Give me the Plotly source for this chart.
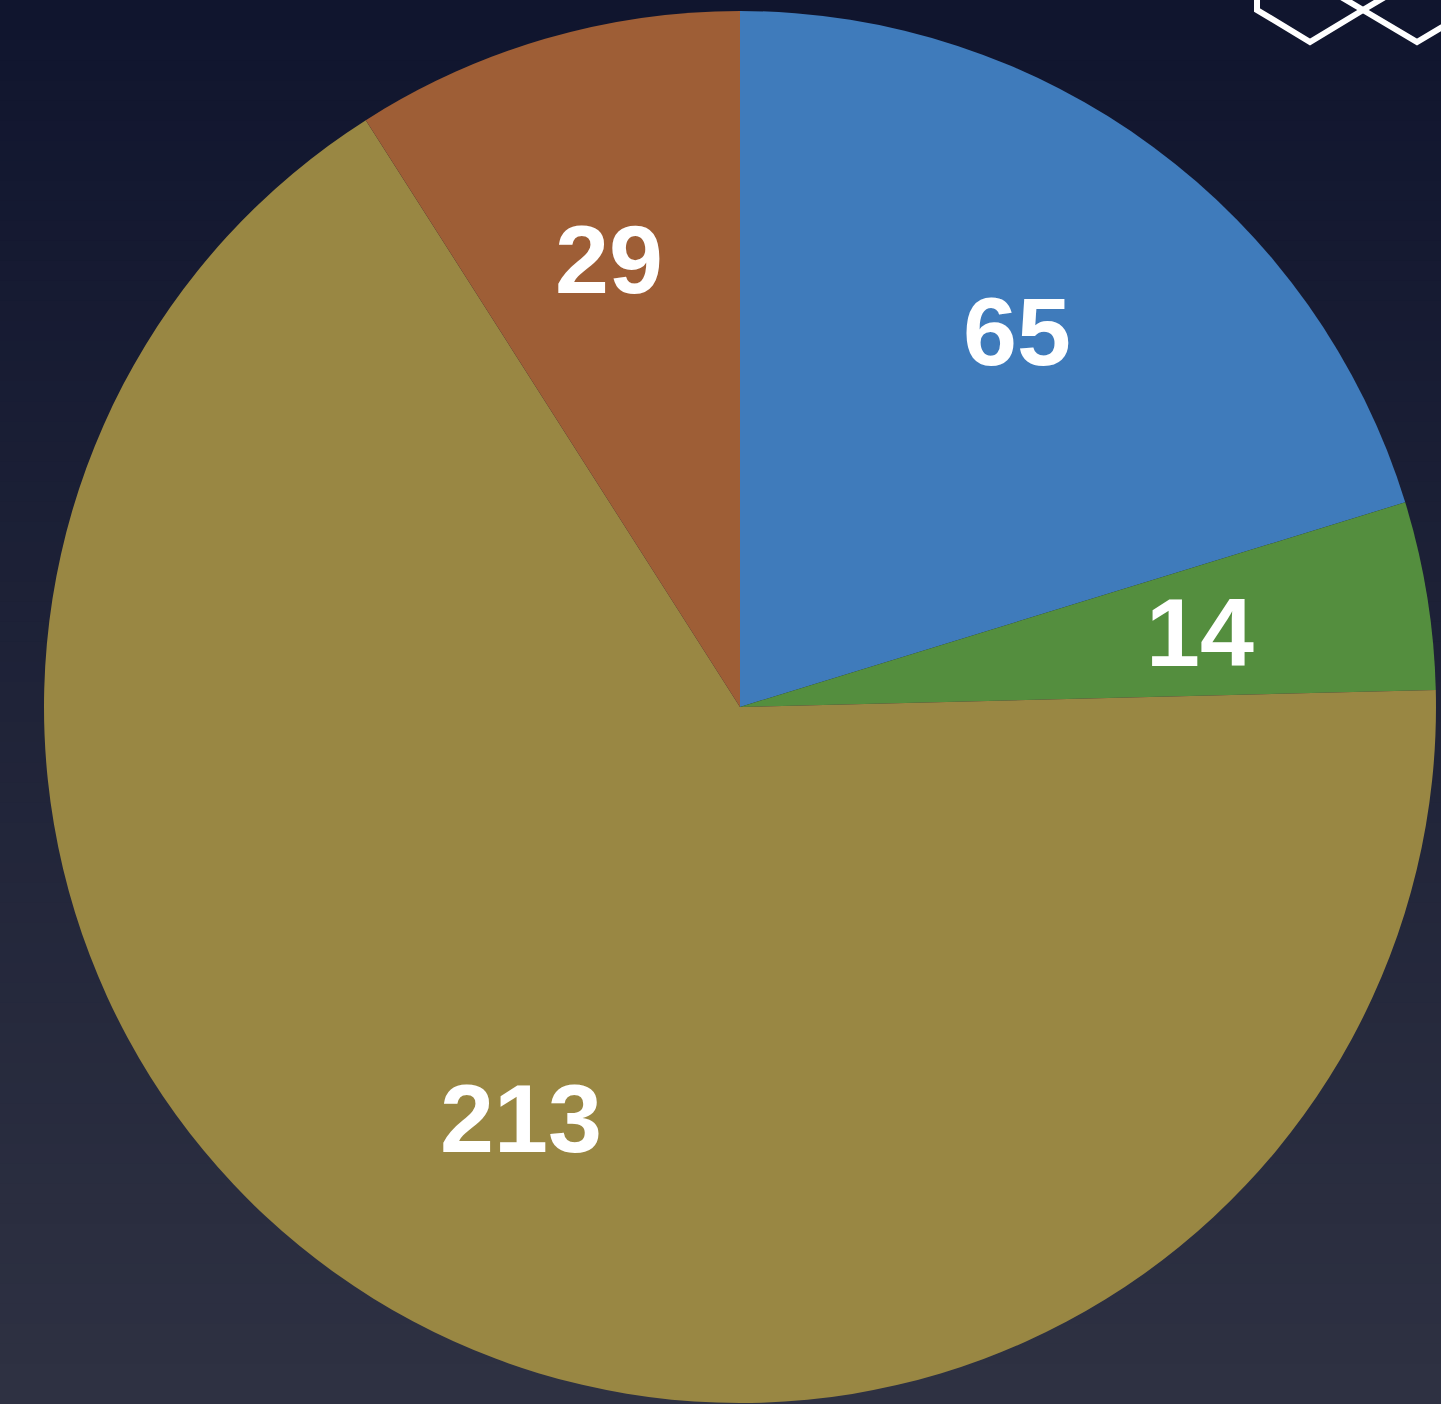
import math
import plotly.graph_objects as go

categories = ["A", "B", "C", "D"]
values = [65, 14, 213, 29]
colors = ["#3f7bbb", "#548e3e", "#998743", "#9e5e36"]

W, H = 1441, 1404
# pie domain (paper fractions)
dx0, dx1 = 44 / W, 1436 / W
dy0, dy1 = 1 / H, 1393 / H

fig = go.Figure()
fig.add_trace(go.Pie(
    labels=categories,
    values=values,
    sort=False,
    direction="clockwise",
    rotation=0,
    marker=dict(colors=colors, line=dict(width=0)),
    textinfo="none",
    showlegend=False,
    hoverinfo="label+value",
    domain=dict(x=[dx0, dx1], y=[dy0, dy1]),
))

# value labels placed at ~2/3 radius along each slice's mid angle
cxp = (dx0 + dx1) / 2 * W
cyp = (dy0 + dy1) / 2 * H
R = min((dx1 - dx0) * W, (dy1 - dy0) * H) / 2
total = sum(values)
cum = 0
annotations = []
for v in values:
    mid = (cum + v / 2) / total * 2 * math.pi
    cum += v
    px = cxp + 0.67 * R * math.sin(mid)
    py = cyp + 0.67 * R * math.cos(mid)
    annotations.append(dict(x=px / W, y=py / H, xref="paper", yref="paper",
                            text=str(v), showarrow=False, xanchor="center", yanchor="middle",
                            font=dict(family="Liberation Sans, Arial, sans-serif", size=97,
                                      color="white", weight="bold")))

# background gradient strips
top = (16, 21, 46)
bot = (46, 49, 66)
n = 70
shapes = []
for i in range(n):
    t = i / (n - 1)
    c = tuple(round(top[k] + (bot[k] - top[k]) * t) for k in range(3))
    shapes.append(dict(type="rect", xref="paper", yref="paper", layer="below",
                       x0=0, x1=1, y0=1 - (i + 1) / n - 0.002, y1=1 - i / n,
                       fillcolor="rgb(%d,%d,%d)" % c, line=dict(width=0)))

# decorative hexagon outlines (cut off at top right)
def pp(pts):
    return "M " + " L ".join("%f,%f" % (x / W, 1 - y / H) for x, y in pts)

deco = [
    [(1257, -30), (1257, 10), (1310, 42), (1363, 10), (1395, -9)],
    [(1331, -9), (1363, 10), (1417, 42), (1471, 10)],
]
for p in deco:
    shapes.append(dict(type="path", xref="paper", yref="paper", layer="above",
                       path=pp(p), line=dict(color="white", width=6)))

fig.update_layout(
    width=W, height=H,
    margin=dict(l=0, r=0, t=0, b=0),
    paper_bgcolor="rgb(16,21,46)",
    plot_bgcolor="rgba(0,0,0,0)",
    shapes=shapes,
    annotations=annotations,
)
fig.write_html("out.html", config={"displayModeBar": False},
               post_script="document.body.style.margin='0';document.body.style.overflow='hidden';")
